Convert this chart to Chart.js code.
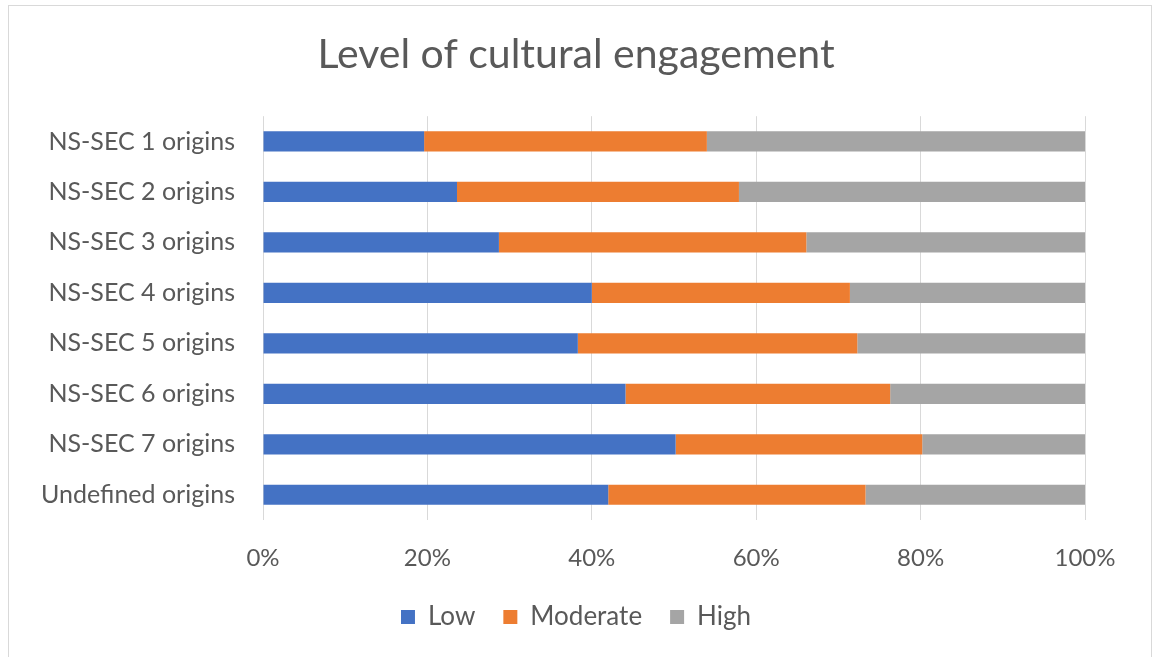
<!DOCTYPE html>
<html>
<head>
<meta charset="utf-8">
<script src="https://cdn.jsdelivr.net/npm/chart.js@4"></script>
<style>
  body { margin: 0; background: #fff; }
  #frame { position: absolute; left: 8px; top: 5px; width: 1142px; height: 660px; border: 1px solid #d9d9d9; }
  #engagement { position: absolute; left: 0; top: 0; }
</style>
</head>
<body>
<div id="frame"></div>
<canvas id="engagement" width="1152" height="657"></canvas>
<script>
  const origins = ['NS-SEC 1 origins', 'NS-SEC 2 origins', 'NS-SEC 3 origins', 'NS-SEC 4 origins',
    'NS-SEC 5 origins', 'NS-SEC 6 origins', 'NS-SEC 7 origins', 'Undefined origins'];
  const low = [19.6, 23.6, 28.7, 40.0, 38.3, 44.1, 50.2, 42.0];
  const moderate = [34.4, 34.3, 37.4, 31.4, 34.0, 32.2, 30.0, 31.3];
  const high = [46.0, 42.1, 33.9, 28.6, 27.7, 23.7, 19.8, 26.7];
  const pctTicks = [0, 20, 40, 60, 80, 100];

  const grey = '#595959';
  const fontFamily = 'Lato, "Open Sans", sans-serif';

  const ctx = document.getElementById('engagement');
  new Chart(ctx, {
    type: 'bar',
    data: {
      labels: origins,
      datasets: [
        { label: 'Low', data: low, backgroundColor: '#4472C4' },
        { label: 'Moderate', data: moderate, backgroundColor: '#ED7D31' },
        { label: 'High', data: high, backgroundColor: '#A5A5A5' }
      ]
    },
    options: {
      indexAxis: 'y',
      responsive: false,
      animation: false,
      layout: { padding: { left: 0, right: 0, top: 0, bottom: 17 } },
      datasets: { bar: { barPercentage: 0.4, categoryPercentage: 1 } },
      scales: {
        x: {
          stacked: true,
          min: 0,
          max: 100,
          afterBuildTicks: s => { s.ticks = pctTicks.map(v => ({ value: v })); },
          afterFit: s => { s.height = 56; },
          grid: { color: '#d9d9d9', drawTicks: false },
          border: { display: false },
          ticks: {
            padding: 24,
            color: grey,
            font: { family: fontFamily, size: 24 },
            callback: v => v + '%'
          }
        },
        y: {
          stacked: true,
          afterFit: s => { s.width = 263; },
          grid: { display: false },
          border: { display: false },
          ticks: {
            padding: 20,
            color: grey,
            font: { family: fontFamily, size: 25 }
          }
        },
        spacer: {
          type: 'linear',
          position: 'right',
          afterFit: s => { s.width = 67; },
          grid: { display: false },
          border: { display: false },
          ticks: { display: false }
        }
      },
      plugins: {
        title: {
          display: true,
          text: 'Level of cultural engagement',
          color: grey,
          font: { family: fontFamily, size: 41, weight: 'normal' },
          padding: { top: 30, bottom: 37 }
        },
        legend: {
          position: 'bottom',
          labels: {
            color: grey,
            boxWidth: 14,
            boxHeight: 14,
            padding: 28,
            font: { family: fontFamily, size: 26 }
          }
        },
        tooltip: { enabled: false }
      }
    }
  });
</script>
</body>
</html>
